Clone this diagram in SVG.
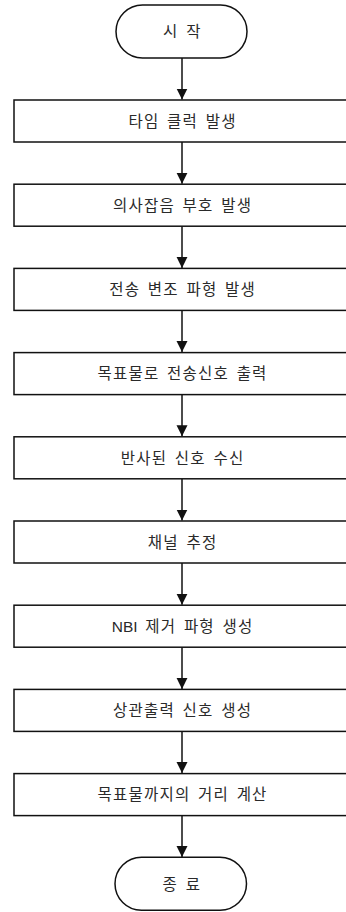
<svg xmlns="http://www.w3.org/2000/svg" width="346" height="912" viewBox="0 0 346 912">
<style>
.box{fill:#fff;stroke:#111;stroke-width:1.5}
.term{fill:#fff;stroke:#111;stroke-width:1.5}
.lbl{font-family:"Noto Sans CJK KR","Liberation Sans",sans-serif;font-size:15.5px;letter-spacing:1.2px;word-spacing:3px;fill:#2a2a2a;text-anchor:middle}
.lat{font-family:"Liberation Sans",sans-serif;letter-spacing:0}
.conn line{stroke:#111;stroke-width:1.5}
</style>
<defs>
<marker id="ah" markerUnits="userSpaceOnUse" markerWidth="12" markerHeight="17" refX="11" refY="6" orient="auto">
<path d="M0,0.5 L11,6 L0,11.5 Z" fill="#111"/>
</marker>
</defs>
<rect width="346" height="912" fill="#fff"/>
<g id="connectors" class="conn">
<line x1="182" y1="58" x2="182" y2="99.5" marker-end="url(#ah)"/>
<line x1="182" y1="142" x2="182" y2="183.7" marker-end="url(#ah)"/>
<line x1="182" y1="226.2" x2="182" y2="267.9" marker-end="url(#ah)"/>
<line x1="182" y1="310.4" x2="182" y2="352.1" marker-end="url(#ah)"/>
<line x1="182" y1="394.6" x2="182" y2="436.3" marker-end="url(#ah)"/>
<line x1="182" y1="478.8" x2="182" y2="520.5" marker-end="url(#ah)"/>
<line x1="182" y1="563" x2="182" y2="604.7" marker-end="url(#ah)"/>
<line x1="182" y1="647.2" x2="182" y2="688.9" marker-end="url(#ah)"/>
<line x1="182" y1="731.4" x2="182" y2="773.1" marker-end="url(#ah)"/>
<line x1="182" y1="815.6" x2="182" y2="857" marker-end="url(#ah)"/>
</g>
<g id="start">
<rect class="term" x="116" y="5" width="131" height="53" rx="26.5" ry="26.5"/>
<text class="lbl" x="182.3" y="37.2">시 작</text>
</g>
<g id="n1">
<rect class="box" x="14" y="100" width="340" height="42"/>
<text class="lbl" x="182.6" y="126.7">타임 클럭 발생</text>
</g>
<g id="n2">
<rect class="box" x="14" y="184.2" width="340" height="42"/>
<text class="lbl" x="182.6" y="210.9">의사잡음 부호 발생</text>
</g>
<g id="n3">
<rect class="box" x="14" y="268.4" width="340" height="42"/>
<text class="lbl" x="182.6" y="295.1">전송 변조 파형 발생</text>
</g>
<g id="n4">
<rect class="box" x="14" y="352.6" width="340" height="42"/>
<text class="lbl" x="182.6" y="379.3">목표물로 전송신호 출력</text>
</g>
<g id="n5">
<rect class="box" x="14" y="436.8" width="340" height="42"/>
<text class="lbl" x="182.6" y="463.5">반사된 신호 수신</text>
</g>
<g id="n6">
<rect class="box" x="14" y="521" width="340" height="42"/>
<text class="lbl" x="182.6" y="547.7">채널 추정</text>
</g>
<g id="n7">
<rect class="box" x="14" y="605.2" width="340" height="42"/>
<text class="lbl" x="182.6" y="631.9"><tspan class="lat">NBI</tspan> 제거 파형 생성</text>
</g>
<g id="n8">
<rect class="box" x="14" y="689.4" width="340" height="42"/>
<text class="lbl" x="182.6" y="716.1">상관출력 신호 생성</text>
</g>
<g id="n9">
<rect class="box" x="14" y="773.6" width="340" height="42"/>
<text class="lbl" x="182.6" y="800.3">목표물까지의 거리 계산</text>
</g>
<g id="end">
<rect class="term" x="115" y="857.3" width="131.5" height="53" rx="26.5" ry="26.5"/>
<text class="lbl" x="181.8" y="889.5">종 료</text>
</g>
</svg>
